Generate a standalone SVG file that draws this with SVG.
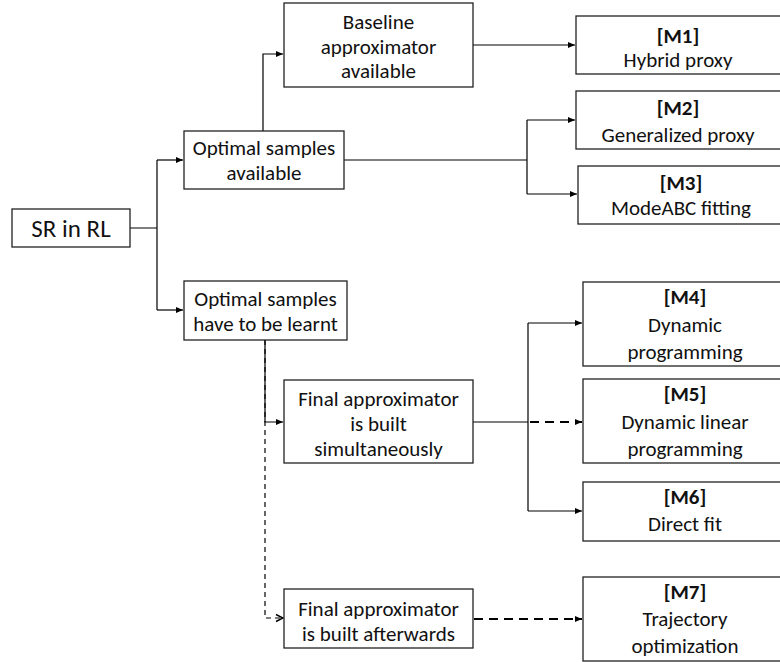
<svg xmlns="http://www.w3.org/2000/svg" width="780" height="662" viewBox="0 0 780 662">
<style>
.box{fill:#fff;stroke:#222;stroke-width:1.3}
text{font-family:Calibri,Carlito,Lato,"Open Sans",sans-serif;font-size:21px;fill:#111;text-anchor:middle}
.b{font-weight:bold}
.c{fill:none;stroke:#000;stroke-width:1.2}
.d{fill:none;stroke:#000;stroke-width:2;stroke-dasharray:9 6}
.dt{fill:none;stroke:#000;stroke-width:1.2;stroke-dasharray:5 4}
</style>
<defs>
<marker id="a" markerUnits="userSpaceOnUse" markerWidth="8" markerHeight="8" refX="7" refY="4" orient="auto"><path d="M0,1 L7,4 L0,7 Z" fill="#000"/></marker>
<marker id="o" markerUnits="userSpaceOnUse" markerWidth="10" markerHeight="10" refX="9" refY="5" orient="auto"><path d="M2,1.5 L9,5 L2,8.5" fill="none" stroke="#000" stroke-width="1.4"/></marker>
</defs>
<g id="connectors">
<path class="c" d="M130,228 H157 M157,160 V310"/>
<path class="c" d="M157,160 H183" marker-end="url(#a)"/>
<path class="c" d="M157,310 H183" marker-end="url(#a)"/>
<path class="c" d="M263,131 V54 H283" marker-end="url(#a)"/>
<path class="c" d="M473,45 H575" marker-end="url(#a)"/>
<path class="c" d="M344,160 H527 M527,120 V194"/>
<path class="c" d="M527,120 H575" marker-end="url(#a)"/>
<path class="c" d="M527,194 H577" marker-end="url(#a)"/>
<path class="dt" d="M265,340 V618 H283" marker-end="url(#o)"/>
<path class="c" d="M265,340 V422 H283" marker-end="url(#a)"/>
<path class="c" d="M473,422 H528 M528,323 V511"/>
<path class="c" d="M528,323 H582" marker-end="url(#a)"/>
<path class="c" d="M528,511 H582" marker-end="url(#a)"/>
<path class="d" d="M530,422 H582" marker-end="url(#a)"/>
<path class="d" d="M474,619 H582" marker-end="url(#a)"/>
</g>
<g id="sr"><rect class="box" x="12" y="209" width="118" height="38"/><text x="71" y="237" style="font-size:25px">SR in RL</text></g>
<g id="baseline"><rect class="box" x="284" y="3" width="189" height="84"/><text x="378.5" y="29">Baseline</text><text x="378.5" y="53.5">approximator</text><text x="378.5" y="77.5">available</text></g>
<g id="opt-avail"><rect class="box" x="184" y="131" width="160" height="58"/><text x="264" y="155">Optimal samples</text><text x="264" y="180">available</text></g>
<g id="opt-learn"><rect class="box" x="184" y="281" width="163" height="59"/><text x="265.5" y="305.5">Optimal samples</text><text x="265.5" y="330.5">have to be learnt</text></g>
<g id="final-sim"><rect class="box" x="284" y="380" width="189" height="83"/><text x="378.5" y="405.5">Final approximator</text><text x="378.5" y="430.5">is built</text><text x="378.5" y="455.5">simultaneously</text></g>
<g id="final-after"><rect class="box" x="284" y="589" width="189" height="59"/><text x="378.5" y="615.5">Final approximator</text><text x="378.5" y="640.5">is built afterwards</text></g>
<g id="m1"><rect class="box" x="576" y="16" width="206" height="58"/><text class="b" x="678" y="42.5">[M1]</text><text x="678" y="66.5">Hybrid proxy</text></g>
<g id="m2"><rect class="box" x="576" y="91" width="206" height="58"/><text class="b" x="678" y="114.5">[M2]</text><text x="678" y="141.5">Generalized proxy</text></g>
<g id="m3"><rect class="box" x="578" y="166" width="206" height="58"/><text class="b" x="681" y="189.5">[M3]</text><text x="681" y="214.5">ModeABC fitting</text></g>
<g id="m4"><rect class="box" x="583" y="282" width="206" height="84"/><text class="b" x="685" y="303.5">[M4]</text><text x="685" y="331.5">Dynamic</text><text x="685" y="358.5">programming</text></g>
<g id="m5"><rect class="box" x="583" y="379" width="206" height="84"/><text class="b" x="685" y="400.5">[M5]</text><text x="685" y="429">Dynamic linear</text><text x="685" y="455.5">programming</text></g>
<g id="m6"><rect class="box" x="583" y="482" width="206" height="59"/><text class="b" x="685" y="504">[M6]</text><text x="685" y="530.5">Direct fit</text></g>
<g id="m7"><rect class="box" x="583" y="577" width="206" height="84"/><text class="b" x="685" y="599">[M7]</text><text x="685" y="625.5">Trajectory</text><text x="685" y="652.5">optimization</text></g>
</svg>
